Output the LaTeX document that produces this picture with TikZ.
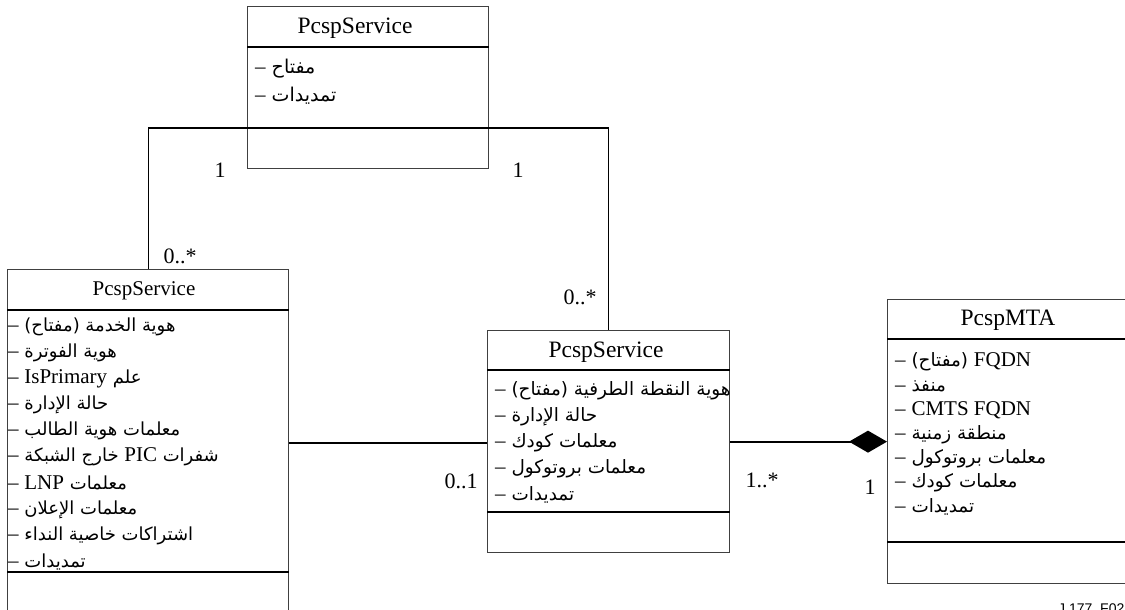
\documentclass[tikz,border=0pt]{standalone}
\usepackage{fontspec}
\setmainfont{Liberation Serif}
\newfontfamily\ar[Script=Arabic]{DejaVu Sans}
\newfontfamily\sansf{Liberation Sans}
\TeXXeTstate=1
\usetikzlibrary{arrows.meta}
\newcommand\arl[1]{\beginR #1 {\rmfamily\fontsize{21}{20}\selectfont –}\endR}
\newcommand\lat[1]{{\rmfamily\fontsize{21}{20}\selectfont #1}}
\tikzset{
  box/.style={draw=black!75, line width=1.3pt, inner sep=0pt, anchor=north west},
  sepline/.style={draw=black, line width=2.2pt},
  conn/.style={draw=black, line width=2pt},
  thinconn/.style={draw=black, line width=1.3pt},
  title/.style={inner sep=0pt, font=\fontsize{23.5}{26}\selectfont},
  ltitle/.style={inner sep=0pt, font=\fontsize{21}{24}\selectfont},
  mult/.style={inner sep=0pt, font=\fontsize{22}{24}\selectfont},
  txt/.style={anchor=west, inner sep=0pt},
  ttxt/.style={txt, font=\ar\fontsize{19}{21}\selectfont},
  ltxt/.style={txt, font=\ar\fontsize{18}{20}\selectfont},
  mtxt/.style={txt, font=\ar\fontsize{18.4}{20}\selectfont},
  rtxt/.style={txt, font=\ar\fontsize{18.4}{20}\selectfont},
}
\begin{document}
\begin{tikzpicture}[x=1pt,y=-1pt]
\useasboundingbox (0,0) rectangle (1125,610);
% ---------- top box
\node[box, minimum width=241pt, minimum height=162pt] (T) at (247,6) {};
\draw[sepline] ([yshift=-41pt]T.north west) -- ([yshift=-41pt]T.north east);
\node[title] (Tt) at (355,28) {PcspService};
\node[ttxt] (T1) at (255,69) {\arl{مفتاح}};
\node[ttxt] (T2) at (255,96) {\arl{تمديدات}};
% ---------- left box
\node[box, minimum width=281pt, minimum height=346pt] (L) at (7,269) {};
\draw[sepline] ([yshift=-41pt]L.north west) -- ([yshift=-41pt]L.north east);
\draw[sepline] ([yshift=-303pt]L.north west) -- ([yshift=-303pt]L.north east);
\node[ltitle] (Lt) at (144,291) {PcspService};
\node[ltxt] (L1) at (8,327) {\arl{هوية الخدمة (مفتاح)}};
\node[ltxt] (L2) at (8,353) {\arl{هوية الفوترة}};
\node[ltxt] (L3) at (8,379) {\arl{علم \lat{IsPrimary}}};
\node[ltxt] (L4) at (8,405) {\arl{حالة الإدارة}};
\node[ltxt] (L5) at (8,431) {\arl{معلمات هوية الطالب}};
\node[ltxt] (L6) at (8,457) {\arl{شفرات \lat{PIC} خارج الشبكة}};
\node[ltxt] (L7) at (8,483) {\arl{معلمات \lat{LNP}}};
\node[ltxt] (L8) at (8,510) {\arl{معلمات الإعلان}};
\node[ltxt] (L9) at (8,536) {\arl{اشتراكات خاصية النداء}};
\node[ltxt] (L10) at (8,562) {\arl{تمديدات}};
% ---------- middle box
\node[box, minimum width=242pt, minimum height=222pt] (M) at (487,330) {};
\draw[sepline] ([yshift=-40pt]M.north west) -- ([yshift=-40pt]M.north east);
\draw[sepline] ([yshift=-182pt]M.north west) -- ([yshift=-182pt]M.north east);
\node[title] (Mt) at (606,352) {PcspService};
\node[mtxt] (M1) at (495,391) {\arl{هوية النقطة الطرفية (مفتاح)}};
\node[mtxt] (M2) at (495,417) {\arl{حالة الإدارة}};
\node[mtxt] (M3) at (495,443) {\arl{معلمات كودك}};
\node[mtxt] (M4) at (495,469) {\arl{معلمات بروتوكول}};
\node[mtxt] (M5) at (495,495) {\arl{تمديدات}};
% ---------- right box
\node[box, minimum width=250pt, minimum height=284pt] (R) at (887,299) {};
\draw[sepline] ([yshift=-40pt]R.north west) -- ([yshift=-40pt]R.north east);
\draw[sepline] ([yshift=-243pt]R.north west) -- ([yshift=-243pt]R.north east);
\node[title] (Rt) at (1008,320) {PcspMTA};
\node[rtxt] (R1) at (895,362) {\arl{\lat{FQDN} (مفتاح)}};
\node[rtxt] (R2) at (895,386) {\arl{منفذ}};
\node[rtxt] (R3) at (895,410) {\arl{\beginL\lat{CMTS FQDN}\endL}};
\node[rtxt] (R4) at (895,435) {\arl{منطقة زمنية}};
\node[rtxt] (R5) at (895,459) {\arl{معلمات بروتوكول}};
\node[rtxt] (R6) at (895,483) {\arl{معلمات كودك}};
\node[rtxt] (R7) at (895,507) {\arl{تمديدات}};
% ---------- connectors
\coordinate (bus) at (367,128);
\draw[thinconn] (L.north) |- (bus) -| (M.north);
\draw[conn] (L.east) -- (L.east -| M.west);
\draw[conn, -{Diamond[length=38pt,width=22pt]}] (M.east) -- (R.west);
% ---------- multiplicities
\node[mult] (m1) at (220,170) {1};
\node[mult] (m2) at (518,170) {1};
\node[mult] (m3) at (180,256) {0..*};
\node[mult] (m4) at (580,297) {0..*};
\node[mult] (m5) at (461,481) {0..1};
\node[mult] (m6) at (762,480) {1..*};
\node[mult] (m7) at (870,487) {1};
% ---------- figure id
\node[anchor=base west, inner sep=0pt, font=\sansf\fontsize{14}{16}\selectfont] (fid) at (1058,613) {J.177\_F02};
\end{tikzpicture}
\end{document}
